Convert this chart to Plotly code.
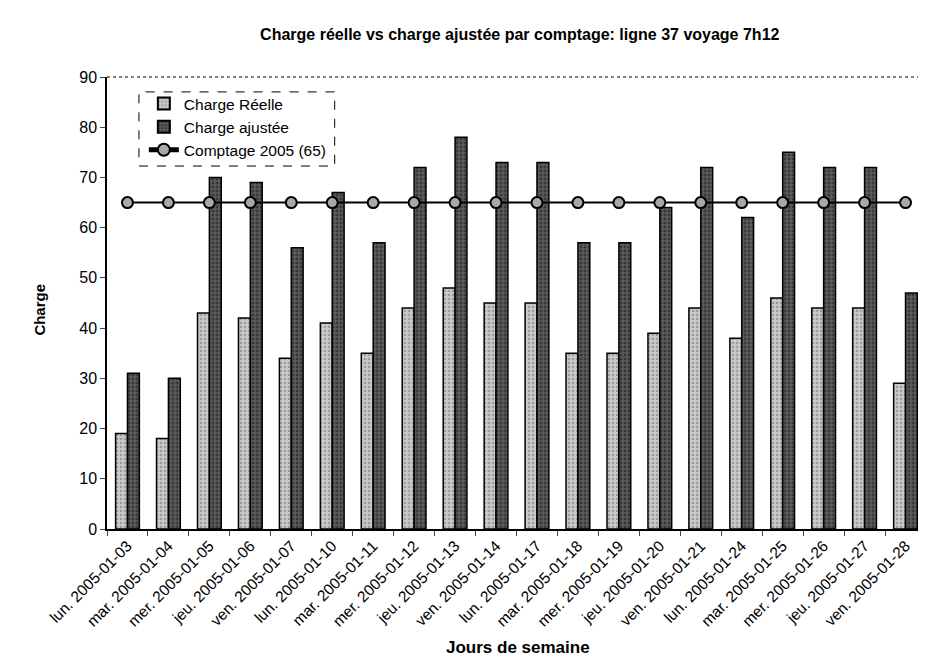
import plotly.graph_objects as go

jours = [
    "lun. 2005-01-03", "mar. 2005-01-04", "mer. 2005-01-05", "jeu. 2005-01-06", "ven. 2005-01-07",
    "lun. 2005-01-10", "mar. 2005-01-11", "mer. 2005-01-12", "jeu. 2005-01-13", "ven. 2005-01-14",
    "lun. 2005-01-17", "mar. 2005-01-18", "mer. 2005-01-19", "jeu. 2005-01-20", "ven. 2005-01-21",
    "lun. 2005-01-24", "mar. 2005-01-25", "mer. 2005-01-26", "jeu. 2005-01-27", "ven. 2005-01-28",
]
charge_reelle = [19, 18, 43, 42, 34, 41, 35, 44, 48, 45, 45, 35, 35, 39, 44, 38, 46, 44, 44, 29]
charge_ajustee = [31, 30, 70, 69, 56, 67, 57, 72, 78, 73, 73, 57, 57, 64, 72, 62, 75, 72, 72, 47]
comptage_2005 = [65] * len(jours)

FONT = "Liberation Sans, Arial, sans-serif"

fig = go.Figure()
fig.add_trace(go.Bar(
    x=jours, y=charge_reelle, name="Charge Réelle",
    marker=dict(color="#bdbdbd", line=dict(color="black", width=1.5),
                pattern=dict(shape=".", fgcolor="#6e6e6e", bgcolor="#cacaca", size=4, solidity=0.35)),
))
fig.add_trace(go.Bar(
    x=jours, y=charge_ajustee, name="Charge ajustée",
    marker=dict(color="#404040", line=dict(color="black", width=1.5),
                pattern=dict(shape=".", fgcolor="#141414", bgcolor="#5c5c5c", size=4, solidity=0.45)),
))
fig.add_trace(go.Scatter(
    x=jours, y=comptage_2005, name="Comptage 2005 (65)", mode="lines+markers",
    line=dict(color="black", width=2),
    marker=dict(symbol="circle", size=11, color="#a8a8a8", line=dict(color="black", width=2)),
))

# dashed legend frame
fig.add_shape(type="rect", xref="paper", yref="paper",
              x0=0.039, x1=0.278, y0=0.803, y1=0.967,
              line=dict(color="black", width=1, dash="dash"), fillcolor="white", layer="below")
# top border of plot area
fig.add_shape(type="line", xref="paper", yref="paper", x0=0, x1=1, y0=1, y1=1,
              line=dict(color="black", width=1, dash="dot"))

# page body has an 8px margin, so the figure is 8px smaller than the window
fig.update_layout(
    width=918, height=652,
    margin=dict(l=99, r=0, t=69, b=131),
    paper_bgcolor="white", plot_bgcolor="white",
    font=dict(family=FONT, color="black", size=16),
    barmode="group", bargap=0.42, bargroupgap=0,
    title=dict(text="<b>Charge réelle vs charge ajustée par comptage: ligne 37 voyage 7h12</b>",
               font=dict(size=16), xref="paper", x=0.504, xanchor="center",
               yref="container", y=0.960, yanchor="middle"),
    showlegend=True,
    legend=dict(x=0.045, y=0.978, xanchor="left", yanchor="top",
                bgcolor="rgba(0,0,0,0)", borderwidth=0, font=dict(size=15.5),
                tracegroupgap=0, itemsizing="constant"),
    xaxis=dict(range=[-0.5, 19.5], tickangle=-45, tickson="boundaries", ticks="outside", ticklen=5,
               showline=True, linecolor="black", linewidth=1.5, showgrid=False,
               tickfont=dict(size=15.5)),
    yaxis=dict(range=[0, 90], dtick=10, ticks="outside", ticklen=5,
               showline=True, linecolor="black", linewidth=1.5, showgrid=False,
               zeroline=False, tickfont=dict(size=16)),
    annotations=[
        dict(text="<b>Jours de semaine</b>", xref="paper", yref="paper", x=0.502, y=-0.263,
             xanchor="center", yanchor="middle", showarrow=False, font=dict(size=17)),
        dict(text="<b>Charge</b>", xref="paper", yref="paper", x=-0.082, y=0.485,
             xanchor="center", yanchor="middle", showarrow=False, textangle=-90, font=dict(size=15)),
    ],
)

fig.write_html("out.html")
